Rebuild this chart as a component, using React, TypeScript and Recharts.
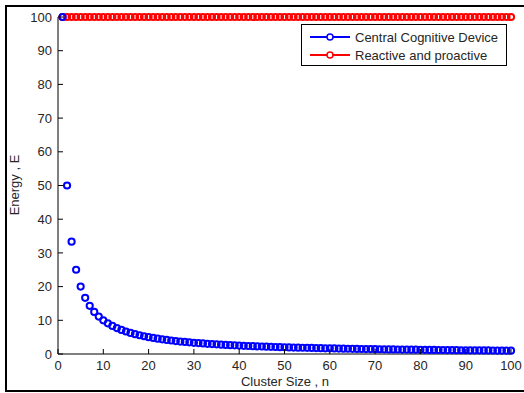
import React from 'react';
import { ComposedChart, Scatter, XAxis, YAxis } from 'recharts';

// cluster size n
const clusterSizes = [
  1, 2, 3, 4, 5, 6, 7, 8, 9, 10, 11, 12, 13, 14, 15, 16, 17, 18, 19, 20,
  21, 22, 23, 24, 25, 26, 27, 28, 29, 30, 31, 32, 33, 34, 35, 36, 37, 38, 39, 40,
  41, 42, 43, 44, 45, 46, 47, 48, 49, 50, 51, 52, 53, 54, 55, 56, 57, 58, 59, 60,
  61, 62, 63, 64, 65, 66, 67, 68, 69, 70, 71, 72, 73, 74, 75, 76, 77, 78, 79, 80,
  81, 82, 83, 84, 85, 86, 87, 88, 89, 90, 91, 92, 93, 94, 95, 96, 97, 98, 99, 100,
];

// Central Cognitive Device energy
const centralEnergy = [
  100, 50, 33.33, 25, 20, 16.67, 14.29, 12.5, 11.11, 10,
  9.09, 8.33, 7.69, 7.14, 6.67, 6.25, 5.88, 5.56, 5.26, 5,
  4.76, 4.55, 4.35, 4.17, 4, 3.85, 3.7, 3.57, 3.45, 3.33,
  3.23, 3.13, 3.03, 2.94, 2.86, 2.78, 2.7, 2.63, 2.56, 2.5,
  2.44, 2.38, 2.33, 2.27, 2.22, 2.17, 2.13, 2.08, 2.04, 2,
  1.96, 1.92, 1.89, 1.85, 1.82, 1.79, 1.75, 1.72, 1.69, 1.67,
  1.64, 1.61, 1.59, 1.56, 1.54, 1.52, 1.49, 1.47, 1.45, 1.43,
  1.41, 1.39, 1.37, 1.35, 1.33, 1.32, 1.3, 1.28, 1.27, 1.25,
  1.23, 1.22, 1.2, 1.19, 1.18, 1.16, 1.15, 1.14, 1.12, 1.11,
  1.1, 1.09, 1.08, 1.06, 1.05, 1.04, 1.03, 1.02, 1.01, 1,
];

// Reactive and proactive energy
const reactiveEnergy = [
  100, 100, 100, 100, 100, 100, 100, 100, 100, 100,
  100, 100, 100, 100, 100, 100, 100, 100, 100, 100,
  100, 100, 100, 100, 100, 100, 100, 100, 100, 100,
  100, 100, 100, 100, 100, 100, 100, 100, 100, 100,
  100, 100, 100, 100, 100, 100, 100, 100, 100, 100,
  100, 100, 100, 100, 100, 100, 100, 100, 100, 100,
  100, 100, 100, 100, 100, 100, 100, 100, 100, 100,
  100, 100, 100, 100, 100, 100, 100, 100, 100, 100,
  100, 100, 100, 100, 100, 100, 100, 100, 100, 100,
  100, 100, 100, 100, 100, 100, 100, 100, 100, 100,
];

const xTicks = [0, 10, 20, 30, 40, 50, 60, 70, 80, 90, 100];
const yTicks = [0, 10, 20, 30, 40, 50, 60, 70, 80, 90, 100];

const BLUE = '#0000ff';
const RED = '#ff0000';
const TEXT = '#262626';
const FONT = '"Liberation Sans", Arial, sans-serif';

const centralData = clusterSizes.map((n, i) => ({ n, e: centralEnergy[i] }));
const reactiveData = clusterSizes.map((n, i) => ({ n, e: reactiveEnergy[i] }));

const Ring = (color: string) => (props: any) => (
  <circle cx={props.cx} cy={props.cy} r={3.1} fill="none" stroke={color} strokeWidth={2} />
);

// bottom axis: label plus an inward tick
const BottomTick = (props: any) => {
  const { x, y, payload } = props;
  return (
    <g>
      <line x1={x} x2={x} y1={y - 6} y2={y - 11} stroke="#000" />
      <text x={x} y={y} dy="0.8em" textAnchor="middle" fill={TEXT} fontSize={13} fontFamily={FONT}>
        {payload.value}
      </text>
    </g>
  );
};

const LeftTick = (props: any) => {
  const { x, y, payload } = props;
  return (
    <g>
      <line x1={x + 6} x2={x + 11} y1={y} y2={y} stroke="#000" />
      <text x={x} y={y} dy="0.36em" textAnchor="end" fill={TEXT} fontSize={13} fontFamily={FONT}>
        {payload.value}
      </text>
    </g>
  );
};

const TopTick = (props: any) => {
  const { x, y } = props;
  return <line x1={x} x2={x} y1={y} y2={y + 5} stroke="#000" />;
};

const RightTick = (props: any) => {
  const { x, y } = props;
  return <line x1={x} x2={x - 5} y1={y} y2={y} stroke="#000" />;
};

const LegendBox = () => (
  <div
    style={{
      position: 'absolute',
      left: 301,
      top: 24,
      border: '1px solid #000',
      background: '#fff',
      width: 206,
      height: 42,
      boxSizing: 'border-box',
      padding: '3px 0 0 7px',
      fontFamily: FONT,
      fontSize: 13,
      color: TEXT,
    }}
  >
    {[
      { name: 'Central Cognitive Device', color: BLUE },
      { name: 'Reactive and proactive', color: RED },
    ].map((item) => (
      <div key={item.name} style={{ display: 'flex', alignItems: 'center', height: 18 }}>
        <svg width={42} height={10} style={{ marginRight: 4 }}>
          <line x1={1} x2={41} y1={5} y2={5} stroke={item.color} strokeWidth={2} />
          <circle cx={21} cy={5} r={3} fill="#fff" stroke={item.color} strokeWidth={1.5} />
        </svg>
        <span>{item.name}</span>
      </div>
    ))}
  </div>
);

export default function App() {
  return (
    <div style={{ position: 'absolute', left: 0, top: 0, width: 524, height: 393, overflow: 'hidden', background: '#fff' }}>
      <div
        style={{
          position: 'absolute',
          left: 5,
          top: 5,
          width: 540,
          height: 387,
          border: '2px solid #000',
          boxSizing: 'border-box',
        }}
      />
      <ComposedChart
        width={524}
        height={393}
        margin={{ top: 17, right: 13, bottom: 9, left: 8 }}
        style={{ position: 'absolute', left: 0, top: 0 }}
      >
        <XAxis
          xAxisId="b"
          type="number"
          dataKey="n"
          domain={[0, 100]}
          ticks={xTicks}
          interval={0}
          height={30}
          tickSize={0}
          tickMargin={6}
          axisLine={{ stroke: '#000' }}
          tick={<BottomTick />}
        />
        <XAxis
          xAxisId="t"
          orientation="top"
          type="number"
          dataKey="n"
          domain={[0, 100]}
          ticks={xTicks}
          interval={0}
          height={0}
          tickSize={0}
          tickMargin={0}
          axisLine={{ stroke: '#000' }}
          tick={<TopTick />}
        />
        <YAxis
          yAxisId="l"
          type="number"
          dataKey="e"
          domain={[0, 100]}
          ticks={yTicks}
          interval={0}
          width={50}
          tickSize={0}
          tickMargin={6}
          axisLine={{ stroke: '#000' }}
          tick={<LeftTick />}
        />
        <YAxis
          yAxisId="r"
          orientation="right"
          type="number"
          dataKey="e"
          domain={[0, 100]}
          ticks={yTicks}
          interval={0}
          width={0}
          tickSize={0}
          tickMargin={0}
          axisLine={{ stroke: '#000' }}
          tick={<RightTick />}
        />
        <Scatter
          name="Reactive and proactive"
          data={reactiveData}
          xAxisId="b"
          yAxisId="l"
          shape={Ring(RED)}
          isAnimationActive={false}
        />
        <Scatter
          name="Central Cognitive Device"
          data={centralData}
          xAxisId="b"
          yAxisId="l"
          shape={Ring(BLUE)}
          isAnimationActive={false}
        />
      </ComposedChart>
      <LegendBox />
      <div
        style={{
          position: 'absolute',
          left: 14,
          top: 185,
          transform: 'translate(-50%, -50%) rotate(-90deg)',
          whiteSpace: 'nowrap',
          fontFamily: FONT,
          fontSize: 13,
          color: TEXT,
        }}
      >
        Energy , E
      </div>
      <div
        style={{
          position: 'absolute',
          left: 0,
          width: 570,
          top: 374,
          textAlign: 'center',
          fontFamily: FONT,
          fontSize: 13,
          color: TEXT,
        }}
      >
        Cluster Size , n
      </div>
    </div>
  );
}
